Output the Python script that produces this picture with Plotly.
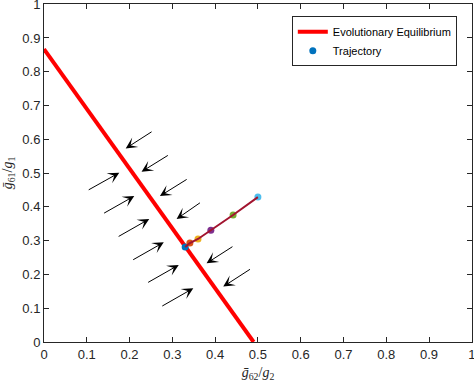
import plotly.graph_objects as go

# Data
eq_x = [0.0, 0.49]
eq_y = [0.867, 0.0]

traj_x = [0.330, 0.341, 0.360, 0.390, 0.442, 0.500]
traj_y = [0.281, 0.293, 0.305, 0.331, 0.376, 0.429]
traj_colors = ["#0072BD", "#D95319", "#EDB120", "#7E2F8E", "#77AC30", "#4DBEEE"]

# arrow tails and components
arr_x = [0.255, 0.293, 0.337, 0.368, 0.444, 0.485,
         0.101, 0.137, 0.171, 0.205, 0.240, 0.273]
arr_y = [0.625, 0.555, 0.484, 0.415, 0.285, 0.218,
         0.448, 0.379, 0.310, 0.241, 0.174, 0.104]
arr_u = [-0.064, -0.065, -0.066, -0.058, -0.064, -0.066,
         0.075, 0.074, 0.075, 0.075, 0.075, 0.076]
arr_v = [-0.052, -0.051, -0.052, -0.051, -0.052, -0.054,
         0.053, 0.053, 0.054, 0.054, 0.054, 0.055]

ticks = [0, 0.1, 0.2, 0.3, 0.4, 0.5, 0.6, 0.7, 0.8, 0.9, 1]
tick_text = ["0", "0.1", "0.2", "0.3", "0.4", "0.5", "0.6", "0.7", "0.8", "0.9", "1"]

fig = go.Figure()
fig.add_trace(go.Scatter(x=eq_x, y=eq_y, mode="lines", name="Evolutionary Equilibrium",
                         line=dict(color="#FF0000", width=4)))
for i, (xx, yy, c) in enumerate(zip(traj_x, traj_y, traj_colors)):
    fig.add_trace(go.Scatter(x=[xx], y=[yy], mode="markers", name="Trajectory",
                             showlegend=(i == 0),
                             marker=dict(color=c, size=7)))
fig.add_trace(go.Scatter(x=traj_x, y=traj_y, mode="lines", showlegend=False,
                         line=dict(color="#A2142F", width=2)))

for x0, y0, u, v in zip(arr_x, arr_y, arr_u, arr_v):
    fig.add_annotation(x=x0 + u, y=y0 + v, ax=x0, ay=y0, xref="x", yref="y",
                       axref="x", ayref="y", text="", showarrow=True,
                       arrowhead=3, arrowsize=1.9, arrowwidth=1, arrowcolor="black")

axis_common = dict(range=[0, 1.0005], tickvals=ticks, ticktext=tick_text, ticks="inside",
                   ticklen=5, tickcolor="#262626", showline=True, linecolor="#262626",
                   linewidth=1, mirror="ticks", showgrid=False, zeroline=False,
                   automargin=False, ticklabeloverflow="allow",
                   tickfont=dict(family="Liberation Sans, Arial", size=13, color="#262626"))

fig.update_xaxes(**axis_common,
                 title=dict(text="<i>ḡ</i><sub>62</sub>/<i>g</i><sub>2</sub>",
                            font=dict(family="Liberation Serif, Times New Roman", size=14, color="#262626"),
                            standoff=7))
fig.update_yaxes(**axis_common,
                 title=dict(text="<i>ḡ</i><sub>61</sub>/<i>g</i><sub>1</sub>",
                            font=dict(family="Liberation Serif, Times New Roman", size=14, color="#262626"),
                            standoff=9))

fig.update_layout(
    width=474, height=382,
    margin=dict(l=44, r=2, t=4, b=40, autoexpand=False),
    plot_bgcolor="white", paper_bgcolor="white",
    showlegend=True,
    legend=dict(x=0.579, y=0.964, xanchor="left", yanchor="top",
                bgcolor="white", bordercolor="#262626", borderwidth=1,
                font=dict(family="Liberation Sans, Arial", size=11, color="black"),
                itemwidth=30, tracegroupgap=0),
)

fig.write_html("out.html", config={"displayModeBar": False},
               post_script="document.body.style.margin='0px';")
